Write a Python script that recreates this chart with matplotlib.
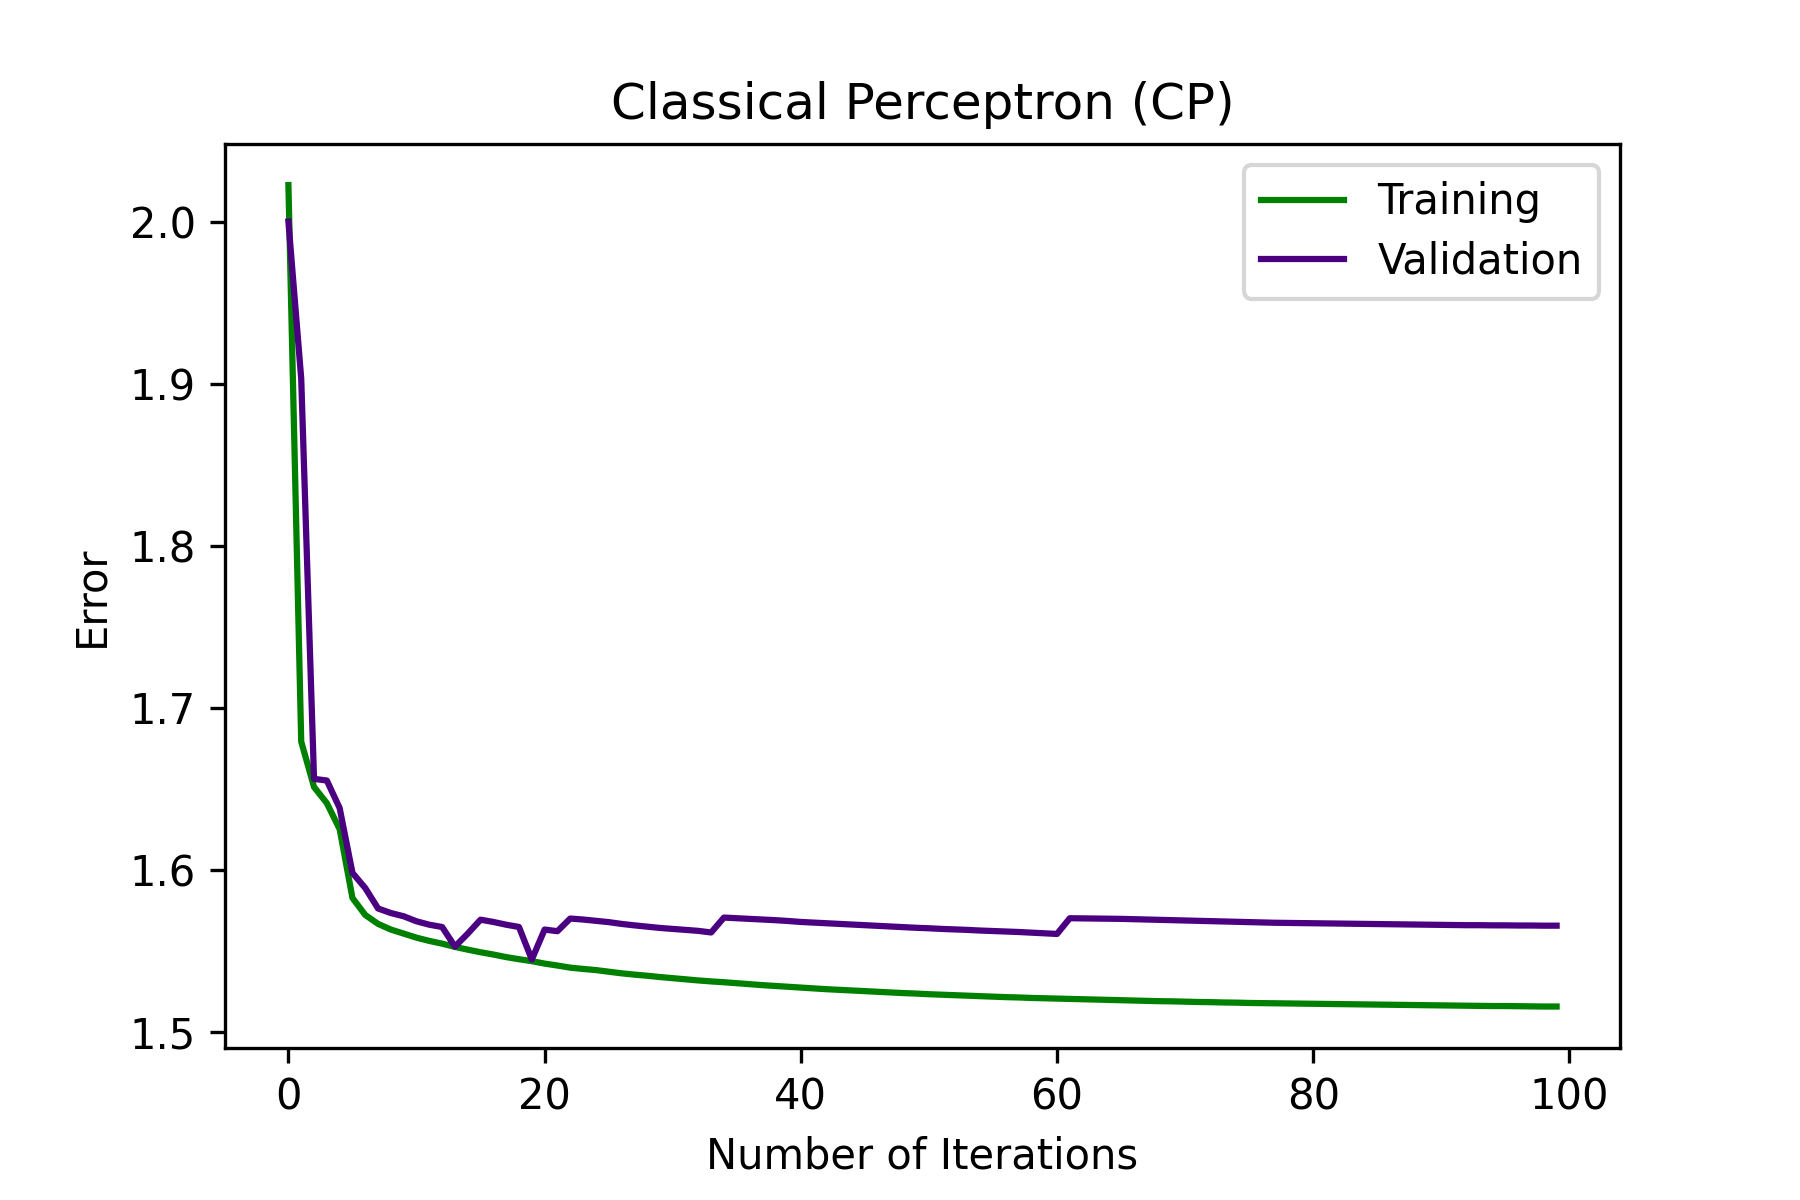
import matplotlib
matplotlib.use("Agg")
import matplotlib.pyplot as plt
import numpy as np

iterations = list(range(100))

training = [
    2.0225, 1.679, 1.651, 1.641, 1.625, 1.5825, 1.572, 1.5665, 1.563, 1.5605,
    1.558, 1.556, 1.5543, 1.5523, 1.5506, 1.549, 1.5476, 1.546, 1.5447, 1.5435,
    1.542, 1.5408, 1.5395, 1.5387, 1.538, 1.537, 1.536, 1.5352, 1.5345, 1.5337,
    1.533, 1.5323, 1.5316, 1.531, 1.5305, 1.5299, 1.5293, 1.5287, 1.5282, 1.5277,
    1.5272, 1.5267, 1.5262, 1.5258, 1.5254, 1.525, 1.5246, 1.5242, 1.5238, 1.5235,
    1.5231, 1.5228, 1.5225, 1.5222, 1.5219, 1.5216, 1.5213, 1.5211, 1.5208, 1.5206,
    1.5204, 1.5202, 1.52, 1.5198, 1.5196, 1.5194, 1.5192, 1.519, 1.5188, 1.5187,
    1.5185, 1.5183, 1.5182, 1.518, 1.5179, 1.5177, 1.5176, 1.5175, 1.5174, 1.5173,
    1.5172, 1.5171, 1.517, 1.5169, 1.5168, 1.5167, 1.5166, 1.5165, 1.5164, 1.5163,
    1.5162, 1.5161, 1.516, 1.5159, 1.5158, 1.5158, 1.5157, 1.5156, 1.5155, 1.5155,
]

validation = [
    2.000, 1.903, 1.656, 1.655, 1.638, 1.598, 1.5886, 1.576, 1.5732, 1.5712,
    1.5681, 1.566, 1.5646, 1.5525, 1.5605, 1.5691, 1.5677, 1.566, 1.5646, 1.5445,
    1.563, 1.562, 1.5698, 1.5692, 1.5684, 1.5676, 1.5665, 1.5656, 1.5648, 1.564,
    1.5634, 1.5628, 1.5622, 1.5612, 1.5704, 1.57, 1.5696, 1.5692, 1.5688, 1.5683,
    1.5677, 1.5673, 1.5669, 1.5665, 1.5661, 1.5657, 1.5653, 1.5649, 1.5645, 1.5641,
    1.5638, 1.5634, 1.5631, 1.5628, 1.5624, 1.5621, 1.5618, 1.5615, 1.5611, 1.5607,
    1.5603, 1.57, 1.5699, 1.5698, 1.5697, 1.5696, 1.5694, 1.5692, 1.569, 1.5688,
    1.5686, 1.5684, 1.5682, 1.568, 1.5678, 1.5676, 1.5674, 1.5672, 1.5671, 1.567,
    1.5669, 1.5668, 1.5667, 1.5666, 1.5665, 1.5664, 1.5663, 1.5662, 1.5661, 1.566,
    1.5659, 1.5658, 1.5657, 1.5657, 1.5656, 1.5656, 1.5655, 1.5655, 1.5654, 1.5654,
]

fig, ax = plt.subplots(figsize=(6, 4), dpi=300)
fig.subplots_adjust(left=0.125, right=0.9, bottom=0.127, top=0.88)

ax.plot(iterations, training, color="green", label="Training")
ax.plot(iterations, validation, color="indigo", label="Validation")

ax.set_title("Classical Perceptron (CP)")
ax.set_xlabel("Number of Iterations")
ax.set_ylabel("Error")
ax.legend(loc="upper right", labelspacing=0.4)

fig.savefig("out.png", dpi=300)
